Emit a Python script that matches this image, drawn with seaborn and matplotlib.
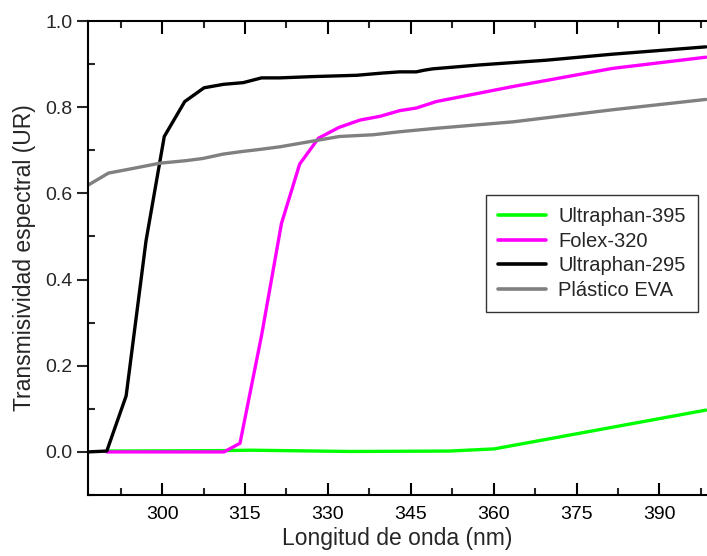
import numpy as np
import pandas as pd
import matplotlib
matplotlib.use("Agg")
import matplotlib.pyplot as plt
from matplotlib.ticker import MultipleLocator, FormatStrFormatter
from matplotlib.lines import Line2D
import seaborn as sns

# ---- data ----
series_names = ["Ultraphan-395", "Folex-320", "Ultraphan-295", "Plástico EVA"]
series_colors = ["#00FF00", "#FF00FF", "#000000", "#808080"]

u395_x = [290.0, 311.0, 316.0, 334.0, 352.0, 360.1, 375.0, 398.4]
u395_y = [0.002, 0.003, 0.004, 0.001, 0.002, 0.007, 0.042, 0.097]

folex_x = [290.0, 311.2, 314.1, 318.0, 321.6, 324.9, 328.3, 332.0, 335.8, 339.5, 343.0, 346.0, 349.6, 363.5, 381.5, 398.4]
folex_y = [0.000, 0.000, 0.020, 0.270, 0.530, 0.668, 0.728, 0.753, 0.770, 0.779, 0.792, 0.798, 0.813, 0.848, 0.890, 0.916]

u295_x = [286.6, 290.0, 293.5, 297.1, 300.4, 304.1, 307.6, 311.1, 314.7, 318.0, 321.3, 327.3, 335.2, 339.7, 343.0, 346.0, 347.5, 349.0, 357.4, 369.5, 381.5, 398.4]
u295_y = [0.000, 0.002, 0.130, 0.490, 0.732, 0.813, 0.845, 0.853, 0.857, 0.868, 0.868, 0.871, 0.874, 0.879, 0.882, 0.882, 0.886, 0.889, 0.898, 0.909, 0.923, 0.940]

eva_x = [286.6, 290.3, 294.0, 297.2, 299.6, 304.4, 307.4, 311.0, 314.4, 317.7, 321.3, 324.9, 332.1, 338.2, 343.0, 349.6, 363.5, 381.5, 398.4]
eva_y = [0.619, 0.647, 0.656, 0.664, 0.670, 0.676, 0.681, 0.691, 0.697, 0.702, 0.708, 0.716, 0.732, 0.736, 0.743, 0.751, 0.766, 0.794, 0.818]

x_ticks = [300, 315, 330, 345, 360, 375, 390]
y_ticks = [0.0, 0.2, 0.4, 0.6, 0.8, 1.0]

df = pd.concat([
    pd.DataFrame({"x": u395_x, "y": u395_y, "serie": series_names[0]}),
    pd.DataFrame({"x": folex_x, "y": folex_y, "serie": series_names[1]}),
    pd.DataFrame({"x": u295_x, "y": u295_y, "serie": series_names[2]}),
    pd.DataFrame({"x": eva_x, "y": eva_y, "serie": series_names[3]}),
], ignore_index=True)

sns.set_style("ticks")
plt.rcParams["font.family"] = ["Liberation Sans", "DejaVu Sans"]

fig = plt.figure(figsize=(7.07, 5.56), dpi=100)
ax = fig.add_axes([88 / 707, 61 / 556, 1 - 88 / 707, 474 / 556])

palette = dict(zip(series_names, series_colors))
for name in series_names:
    sub = df[df["serie"] == name]
    sns.lineplot(data=sub, x="x", y="y", color=palette[name], lw=2.4,
                 estimator=None, sort=False, ax=ax, legend=False)

ax.set_xlim(286.6, 398.6)
ax.set_ylim(-0.1, 1.0)

ax.set_xticks(x_ticks)
ax.xaxis.set_minor_locator(MultipleLocator(7.5))
ax.set_yticks(y_ticks)
ax.set_yticks([-0.1, 0.1, 0.3, 0.5, 0.7, 0.9], minor=True)
ax.yaxis.set_major_formatter(FormatStrFormatter("%.1f"))

for s in ["left", "bottom", "top"]:
    ax.spines[s].set_linewidth(1.5)
    ax.spines[s].set_color("black")
ax.spines["right"].set_visible(False)

ax.tick_params(axis="x", which="major", direction="in", length=9, width=1.5,
               labelsize=14, pad=8, colors="black")
ax.tick_params(axis="x", which="minor", direction="in", length=5, width=1.5)
ax.tick_params(axis="x", which="both", top=True)
ax.tick_params(axis="y", which="major", direction="out", length=8, width=1.5,
               labelsize=14, pad=3)
ax.tick_params(axis="y", which="minor", direction="in", length=5, width=1.5)

ax.set_xlabel("Longitud de onda (nm)", fontsize=16.5, labelpad=3)
ax.set_ylabel("Transmisividad espectral (UR)", fontsize=16.5, labelpad=7)

handles = [Line2D([0], [0], color=c, lw=2.6) for c in series_colors]
leg = ax.legend(handles, series_names, loc="upper right",
                bbox_to_anchor=(0.9855, 0.633), borderaxespad=0,
                fontsize=14.5, frameon=True, fancybox=False, handlelength=2.4,
                labelspacing=0.28, borderpad=0.6, handletextpad=0.6)
leg.get_frame().set_edgecolor("black")
leg.get_frame().set_linewidth(1.0)

fig.savefig("out.png", dpi=100)
